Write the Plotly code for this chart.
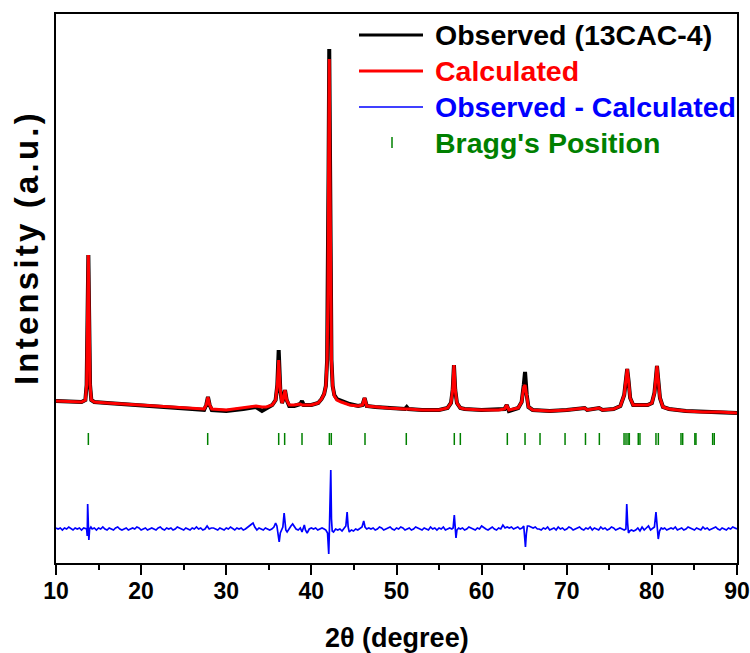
import plotly.graph_objects as go

# ---------------------------------------------------------------------------
# Rietveld refinement of 13CAC-4 (intensities in arbitrary units)
# ---------------------------------------------------------------------------
two_theta = [
    10.0, 11.0, 12.0, 13.0, 13.45, 13.6, 13.7, 13.8, 13.9, 14.0, 14.15, 14.5,
    16.0, 18.0, 20.0, 22.0, 24.0, 26.0, 27.4, 27.65, 27.85, 28.05, 28.3, 30.0,
    32.0, 33.5, 34.2, 34.7, 35.4, 35.8, 36.0, 36.16, 36.35, 36.55, 36.75, 36.9,
    37.1, 37.4, 38.0, 38.7, 38.9, 39.1, 40.0, 40.8, 41.2, 41.5, 41.7, 41.85,
    41.95, 42.02, 42.1, 42.18, 42.26, 42.36, 42.5, 42.7, 43.0, 43.5, 44.5, 45.5,
    46.0, 46.25, 46.5, 47.5, 49.0, 51.0, 51.2, 51.4, 53.0, 55.0, 56.0, 56.4,
    56.6, 56.75, 56.9, 57.1, 57.5, 58.0, 60.0, 62.0, 62.7, 62.95, 63.2, 64.3,
    64.7, 64.95, 65.1, 65.3, 65.5, 66.0, 68.0, 70.0, 72.1, 72.4, 73.8, 74.2,
    75.5, 76.3, 76.75, 76.95, 77.1, 77.25, 77.45, 77.8, 78.6, 79.5, 80.0, 80.3,
    80.45, 80.6, 80.75, 80.95, 81.3, 82.0, 84.0, 86.0, 88.0, 90.0,
]

observed = [
    162, 161.5, 161, 161, 163, 178, 243, 308, 243, 178, 163, 161,
    160, 159, 158, 157, 155.5, 154, 153, 158, 166, 158, 153, 152,
    154, 156, 152, 155, 158, 163, 178, 213, 173, 160, 165, 173,
    163, 157, 157, 159, 162, 158, 158, 160, 164, 169, 177, 203,
    273, 393, 514, 393, 273, 203, 177, 168, 164, 162, 159, 157,
    158, 165, 157, 156, 155, 154, 156, 154, 153, 153, 155, 160,
    173, 198, 173, 160, 155, 154, 153, 153, 154, 158, 152, 155,
    161, 178, 191, 168, 156, 153, 152, 153, 155, 153, 155, 153,
    154, 157, 168, 183, 194, 183, 165, 158, 158, 158, 160, 170,
    183, 197, 183, 165, 156, 154, 152, 151, 151, 150,
]

calculated = [
    162, 161.5, 161, 161, 163, 178, 243, 308, 243, 178, 163, 161,
    160, 159, 158, 157, 156, 155, 154, 158, 166, 158, 154, 153,
    155, 157, 156, 156, 158, 163, 178, 203, 173, 160, 165, 173,
    163, 158, 158, 159, 158, 158, 158, 160, 164, 169, 177, 203,
    273, 393, 504, 393, 273, 203, 177, 167, 163, 161, 158, 157,
    158, 165, 157, 156, 155, 154, 154, 154, 153, 153, 155, 160,
    173, 198, 173, 160, 155, 154, 153, 153, 154, 158, 153, 155,
    161, 176, 178, 167, 156, 153, 152, 153, 155, 153, 155, 153,
    154, 157, 168, 183, 194, 183, 165, 158, 158, 158, 160, 170,
    183, 197, 183, 165, 156, 154, 152, 151, 151, 150,
]

# Observed - Calculated residual
residual_2theta = [
    10.0, 10.25, 10.5, 10.75, 11.0, 11.25, 11.5, 11.75, 12.0, 12.25, 12.5, 12.75, 13.0, 13.25, 13.5,
    13.6, 13.67, 13.72, 13.8, 13.86, 13.95, 14.1,
    14.25, 14.5, 14.75, 15.0, 15.25, 15.5, 15.75, 16.0, 16.25, 16.5, 16.75, 17.0, 17.25, 17.5, 17.75, 18.0, 18.25, 18.5, 18.75, 19.0,
    19.25, 19.5, 19.75, 20.0, 20.25, 20.5, 20.75, 21.0, 21.25, 21.5, 21.75, 22.0, 22.25, 22.5, 22.75, 23.0, 23.25, 23.5, 23.75, 24.0,
    24.25, 24.5, 24.75, 25.0, 25.25, 25.5, 25.75, 26.0, 26.25, 26.5, 26.75, 27.0, 27.25, 27.5, 27.75, 28.0, 28.25, 28.5, 28.75, 29.0,
    29.25, 29.5, 29.75, 30.0, 30.25, 30.5, 30.75, 31.0, 31.25, 31.5, 31.75, 32.0, 32.25, 32.5,
    32.75, 33.0, 33.15, 33.35, 33.6, 33.85, 34.1, 34.35, 34.6, 34.85, 35.1, 35.35, 35.6, 35.8, 35.95,
    36.1, 36.22, 36.35, 36.5, 36.65, 36.8, 36.9, 37.0, 37.15, 37.35, 37.6, 37.8, 38.0, 38.2, 38.45,
    38.7, 38.9, 39.05, 39.17, 39.3, 39.5, 39.75, 40.0, 40.25, 40.5, 40.75, 41.0, 41.25, 41.5, 41.7,
    41.9, 41.98, 42.04, 42.12, 42.28, 42.36, 42.45, 42.6,
    42.85, 43.1, 43.35, 43.6, 43.85, 44.05, 44.2, 44.32, 44.45, 44.7, 44.95, 45.2, 45.45, 45.7, 45.95, 46.15, 46.3, 46.5, 46.75, 47.0,
    47.25, 47.5, 47.75, 48.0, 48.25, 48.5, 48.75, 49.0, 49.25, 49.5, 49.75, 50.0, 50.25, 50.5, 50.75, 51.0, 51.25, 51.5, 51.75,
    52.0, 52.25, 52.5, 52.75, 53.0, 53.25, 53.5, 53.75, 54.0, 54.25, 54.5, 54.75, 55.0, 55.25, 55.5, 55.75, 56.0, 56.25, 56.5,
    56.65, 56.79, 56.9, 56.99, 57.1, 57.3,
    57.5, 57.75, 58.0, 58.25, 58.5, 58.75, 59.0, 59.25, 59.5, 59.75, 60.0, 60.25, 60.5, 60.75, 61.0, 61.25, 61.5, 61.75, 62.0, 62.25, 62.5, 62.75,
    63.0, 63.25, 63.5, 63.75, 64.0, 64.25, 64.5, 64.75, 64.95, 65.08, 65.15, 65.25, 65.38, 65.55, 65.8, 66.05, 66.3, 66.55,
    66.75, 67.0, 67.25, 67.5, 67.75, 68.0, 68.25, 68.5, 68.75, 69.0, 69.25, 69.5, 69.75, 70.0, 70.25, 70.5, 70.75, 71.0, 71.25, 71.5, 71.75,
    72.0, 72.25, 72.5, 72.75, 73.0, 73.25, 73.5, 73.75, 74.0, 74.25, 74.5, 74.75, 75.0, 75.25, 75.5, 75.75, 76.0, 76.25, 76.5, 76.75,
    76.95, 77.05, 77.15, 77.25, 77.4, 77.6, 77.85, 78.1, 78.35, 78.6, 78.85, 79.1, 79.35, 79.6, 79.85, 80.1, 80.3, 80.48, 80.6, 80.75, 80.9, 81.1, 81.3,
    81.5, 81.75, 82.0, 82.25, 82.5, 82.75, 83.0, 83.25, 83.5, 83.75, 84.0, 84.25, 84.5, 84.75, 85.0, 85.25, 85.5,
    85.75, 86.0, 86.25, 86.5, 86.75, 87.0, 87.25, 87.5, 87.75, 88.0, 88.25, 88.5, 88.75, 89.0, 89.25, 89.5, 89.75, 90.0,
]

residual = [
    1, 0, 1, -1, 1, 0, 2, 0, -1, 1, 0, 1, -1, 1, 0,
    0, -7, 25, 4, -11, 0, 2,
    0, 1, -1, 1, 0, 2, 0, -1, 1, 0, -1, 1, 2, 0, -1, 0, 1, -1, 0, 1,
    0, 2, 1, -1, 0, 1, -1, 0, 1, 0, -1, 1, 2, 0, -1, 1, 0, 1, -1, 0,
    2, 1, 0, -1, 1, 0, -1, 1, 0, 2, 0, 1, -1, 0, 3, 0, 1, 1, 0, -1,
    1, 0, -1, 1, 0, 2, 0, -1, 1, 0, 1, -1, 0, 2,
    3, 5, 6, 2, -1, 1, 0, -1, 1, 0, -1, 0, 2, 6, 3,
    -6, -13, -4, 0, 2, 16, 9, -1, -3, 0, 3, 5, 2, 0, -1,
    1, -3, 0, 4, -1, -4, 0, 1, 0, 1, -1, 0, 1, 0, -1,
    -4, -20, -25, 0, 59, 10, -2, -3,
    0, -1, 0, -2, 1, 3, 17, 2, -3, -1, -2, 0, -1, 1, 2, 8, 2, 0, 1, 0,
    1, -1, 0, 2, 1, -1, 0, 1, 2, 0, -1, 1, 0, 2, 1, -1, 0, 1, -1,
    0, 2, 1, 0, -1, 1, 0, -1, 2, 0, 1, -1, 1, 0, 2, -1, 0, 1, 0,
    1, 14, 2, -9, -1, 1,
    0, 1, -1, 0, 2, 1, 0, -1, 1, 0, 3, 1, 0, -1, 1, 2, 0, -1, 1, 0, 4, 1,
    2, 1, 2, 0, 1, 2, 0, 1, 3, -12, -18, -5, 3, 3, 2, 1, 2, 0,
    0, -1, 1, 0, 2, -1, 0, 1, -1, 2, 0, 1, -1, 0, 2, 1, -1, 0, 1, 2, 0,
    -1, 1, 0, 2, -1, 1, 0, -1, 2, 0, 1, -1, 0, 2, 1, -1, 0, 1, 0, -1,
    0, 25, 6, -4, -2, -1, -2, -1, 1, -2, 2, -1, 1, 3, -1, 1, 2, 17, 4, -10, -2, 1, 0,
    1, -1, 0, 1, 0, 2, -1, 0, 1, -1, 0, 2, 1, 0, -1, 1, 0,
    -1, 2, 0, 1, -1, 0, 1, 2, 0, -1, 1, 0, -1, 1, 0, 2, 1, 0,
]

bragg_positions = [
    13.80, 27.82, 36.16, 36.86, 38.90, 42.11, 42.34, 46.30, 51.15, 56.79,
    57.50, 63.02, 65.10, 66.86, 69.80, 72.20, 73.83, 76.73, 76.96, 77.20,
    77.35, 78.40, 78.60, 80.48, 80.76, 83.42, 83.62, 85.05, 85.18, 87.14,
    87.33,
]

legend_labels = ["Observed (13CAC-4)", "Calculated", "Observed - Calculated", "Bragg's Position"]
legend_colors = ["#000000", "#ff0000", "#0000ff", "#008000"]

# vertical placement of the residual and Bragg rows
residual_offset = 34
bragg_low, bragg_high = 118, 130

FONT = "Arial, 'Liberation Sans', sans-serif"

fig = go.Figure()

fig.add_trace(go.Scatter(
    x=two_theta, y=observed, mode="lines",
    line=dict(color="#000000", width=4), name=legend_labels[0], showlegend=False,
))
fig.add_trace(go.Scatter(
    x=two_theta, y=calculated, mode="lines",
    line=dict(color="#ff0000", width=3), name=legend_labels[1], showlegend=False,
))
fig.add_trace(go.Scatter(
    x=residual_2theta, y=[r + residual_offset for r in residual], mode="lines",
    line=dict(color="#0000ff", width=1.7), name=legend_labels[2], showlegend=False,
))

bx, by = [], []
for p in bragg_positions:
    bx += [p, p, None]
    by += [bragg_low, bragg_high, None]
fig.add_trace(go.Scatter(
    x=bx, y=by, mode="lines", line=dict(color="#008000", width=1.5),
    name=legend_labels[3], showlegend=False,
))

# hand-drawn legend (long sample lines, large bold labels)
plot_left, plot_width = 56, 681
plot_bottom, plot_height = 563, 549


def px_x(v):
    return (v - plot_left) / plot_width


def px_y(v):
    return (plot_bottom - v) / plot_height


legend_rows = [35, 71, 107, 143]
line_widths = [3, 3, 1.6]
shapes = []
for row, color, lw in zip(legend_rows[:3], legend_colors[:3], line_widths):
    shapes.append(dict(type="line", xref="paper", yref="paper",
                       x0=px_x(359), x1=px_x(423), y0=px_y(row), y1=px_y(row),
                       line=dict(color=color, width=lw)))
shapes.append(dict(type="line", xref="paper", yref="paper",
                   x0=px_x(392), x1=px_x(392),
                   y0=px_y(legend_rows[3] - 6), y1=px_y(legend_rows[3] + 5),
                   line=dict(color=legend_colors[3], width=1.5)))

annotations = []
for row, label, color in zip(legend_rows, legend_labels, legend_colors):
    annotations.append(dict(
        x=px_x(433), y=px_y(row), xref="paper", yref="paper",
        xanchor="left", yanchor="middle", showarrow=False,
        text=f"<b>{label}</b>", font=dict(family=FONT, size=28.5, color=color),
    ))

annotations.append(dict(
    x=0.5, y=px_y(638), xref="paper", yref="paper",
    xanchor="center", yanchor="middle", showarrow=False,
    text="<b>2θ (degree)</b>", font=dict(family=FONT, size=27, color="#000000"),
))
annotations.append(dict(
    x=px_x(26), y=px_y(248), xref="paper", yref="paper",
    xanchor="center", yanchor="middle", showarrow=False, textangle=-90,
    text='<span style="letter-spacing:3.2px"><b>Intensity (a.u.)</b></span>',
    font=dict(family=FONT, size=33, color="#000000"),
))

fig.update_layout(
    width=750, height=653,
    margin=dict(l=56, r=13, t=14, b=90, autoexpand=False),
    paper_bgcolor="white", plot_bgcolor="white",
    showlegend=False,
    shapes=shapes, annotations=annotations,
    xaxis=dict(
        range=[10, 90], tick0=10, dtick=10, automargin=False,
        ticks="outside", ticklen=10, tickwidth=2, tickcolor="#000000",
        ticklabelstandoff=-4,
        showline=True, linewidth=2, linecolor="#000000", mirror=True,
        showgrid=False, zeroline=False,
        tickfont=dict(family=FONT, size=23, color="#000000", weight="bold"),
        minor=dict(dtick=5, ticks="outside", ticklen=5, tickwidth=2,
                   tickcolor="#000000", showgrid=False),
    ),
    yaxis=dict(
        range=[0, 549], showticklabels=False, ticks="", automargin=False,
        showline=True, linewidth=2, linecolor="#000000", mirror=True,
        showgrid=False, zeroline=False,
    ),
)

fig.write_html("out.html")
